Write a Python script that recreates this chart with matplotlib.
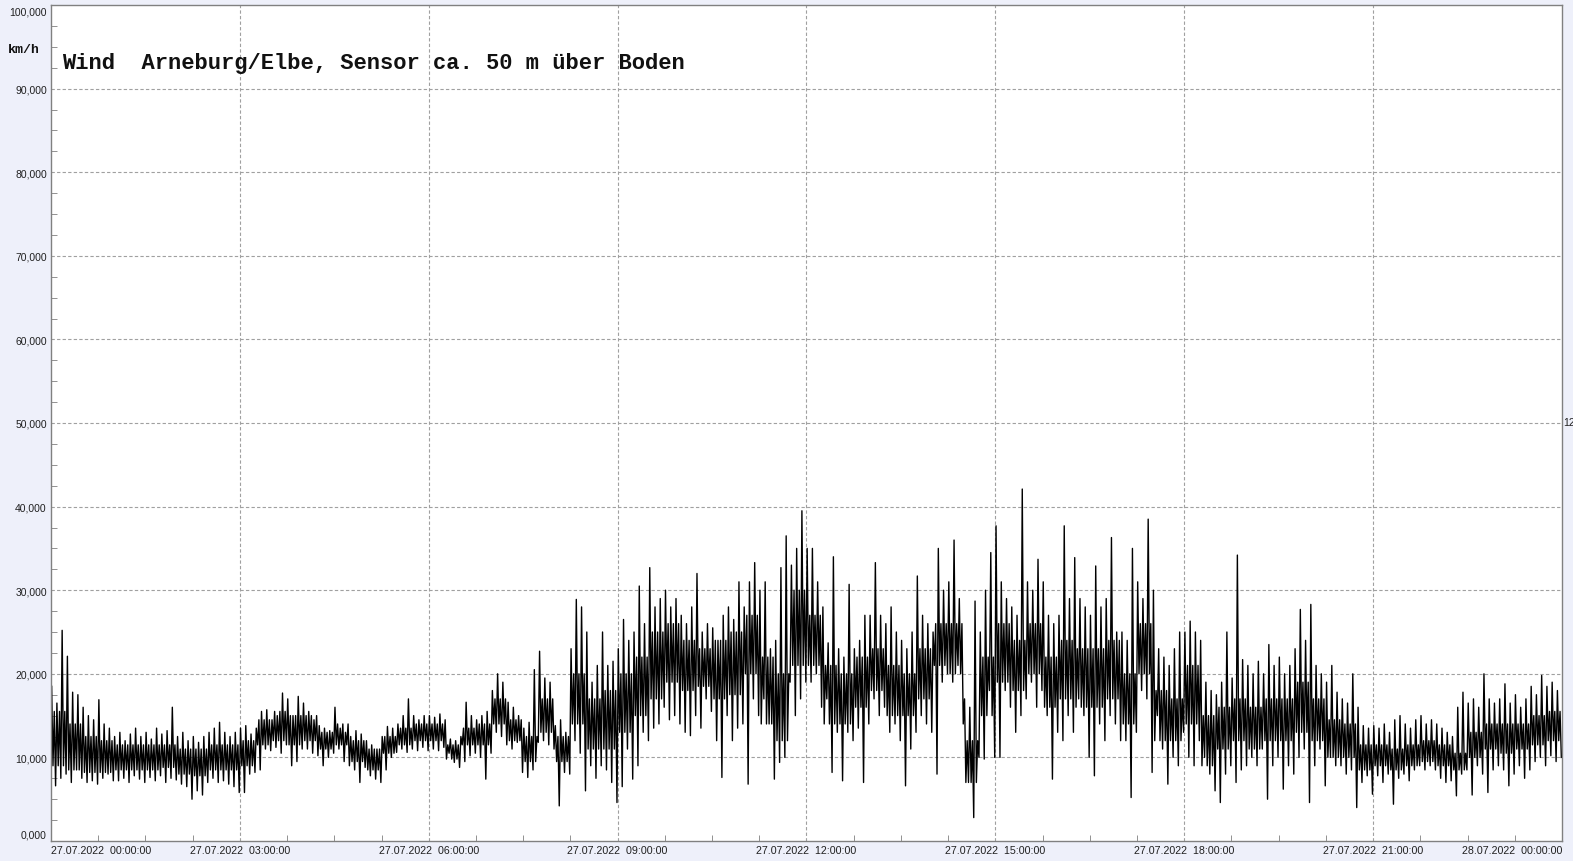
import matplotlib
matplotlib.use("Agg")
import matplotlib.pyplot as plt
from matplotlib.ticker import MultipleLocator, FixedLocator
from matplotlib.transforms import ScaledTranslation
import numpy as np

# ---- data: 5-minute extremes (upper / lower) of wind speed in km/h, one row per hour ----
hi_h = [
    [18.5, 16.5, 25.2, 22.1, 17.8, 17.5, 16.0, 15.0, 14.5, 16.9, 14.0, 13.5],
    [12.5, 13.0, 12.0, 12.8, 13.5, 12.5, 13.0, 12.2, 13.5, 12.8, 13.2, 16.0],
    [12.5, 13.0, 12.0, 12.5, 11.8, 12.5, 13.0, 13.5, 14.2, 13.0, 12.5, 13.0],
    [13.5, 13.8, 12.8, 13.5, 15.5, 15.7, 14.5, 15.0, 17.7, 17.0, 15.0, 17.3],
    [16.5, 15.5, 14.5, 13.8, 13.5, 13.2, 16.0, 13.5, 13.0, 12.5, 13.2, 12.8],
    [12.0, 11.5, 11.0, 12.5, 13.7, 13.5, 14.0, 15.0, 17.0, 15.0, 14.5, 15.0],
    [15.0, 14.8, 15.2, 14.5, 12.2, 12.0, 12.5, 16.6, 15.0, 14.5, 15.0, 15.5],
    [18.0, 20.0, 19.0, 16.6, 16.0, 15.0, 13.5, 14.2, 20.5, 22.7, 19.5, 19.0],
    [13.8, 14.5, 13.0, 23.0, 28.9, 28.0, 25.0, 19.0, 21.0, 25.0, 21.0, 21.5],
    [23.0, 26.5, 24.0, 25.0, 30.5, 26.0, 32.7, 28.0, 29.0, 30.0, 28.0, 29.0],
    [27.0, 26.0, 28.0, 32.0, 25.0, 26.0, 25.5, 24.0, 27.0, 28.0, 26.5, 31.0],
    [28.0, 31.0, 33.3, 30.0, 31.0, 23.0, 24.0, 32.7, 36.5, 33.0, 35.0, 39.5],
    [35.0, 35.0, 31.0, 28.0, 23.7, 34.0, 23.0, 22.0, 30.7, 23.0, 24.0, 27.0],
    [27.0, 33.3, 27.0, 26.0, 28.0, 25.0, 24.0, 23.0, 25.0, 31.7, 27.0, 26.0],
    [25.0, 35.0, 30.0, 31.0, 36.0, 29.0, 17.0, 16.0, 28.7, 25.0, 30.0, 34.5],
    [37.7, 31.0, 29.0, 28.0, 27.0, 42.1, 31.0, 30.0, 33.7, 31.0, 27.0, 26.0],
    [27.0, 37.7, 29.0, 33.9, 29.0, 28.0, 27.0, 32.9, 28.0, 29.0, 36.3, 25.0],
    [25.0, 24.0, 35.0, 31.0, 29.0, 38.5, 30.0, 23.0, 22.0, 21.0, 23.0, 25.0],
    [25.0, 26.3, 25.0, 24.0, 19.0, 18.0, 17.5, 19.0, 25.0, 19.5, 34.2, 21.7],
    [21.0, 20.0, 21.5, 20.0, 23.5, 21.0, 22.0, 20.0, 21.0, 23.0, 27.7, 24.0],
    [28.3, 21.0, 20.0, 19.0, 21.0, 17.8, 17.0, 16.5, 20.0, 16.0, 13.8, 13.5],
    [13.8, 13.5, 14.0, 13.0, 14.5, 15.0, 14.0, 13.5, 14.5, 15.0, 14.0, 14.5],
    [14.0, 13.5, 13.0, 12.5, 16.0, 17.8, 16.5, 17.0, 16.0, 20.0, 17.0, 16.5],
    [17.0, 18.8, 16.5, 17.5, 16.0, 17.0, 18.5, 17.5, 19.8, 18.5, 19.0, 18.0],
]
lo_h = [
    [6.6, 7.5, 8.0, 7.0, 8.5, 7.5, 7.0, 7.2, 6.8, 7.5, 8.0, 7.2],
    [7.2, 7.5, 7.0, 7.8, 7.4, 7.0, 7.6, 7.2, 7.8, 7.0, 7.5, 7.3],
    [6.8, 6.5, 5.0, 6.0, 5.5, 7.0, 7.5, 7.0, 7.2, 6.8, 6.5, 5.8],
    [5.8, 8.0, 8.2, 8.5, 11.0, 10.8, 11.2, 10.5, 11.5, 9.0, 9.5, 11.0],
    [11.0, 10.5, 10.2, 9.0, 10.0, 10.5, 11.0, 9.5, 9.0, 8.5, 7.0, 8.8],
    [7.8, 7.4, 7.0, 8.5, 10.0, 10.6, 11.0, 10.6, 11.0, 10.8, 11.2, 10.8],
    [11.0, 10.8, 11.2, 10.5, 9.4, 8.8, 9.5, 10.2, 10.5, 10.0, 7.4, 10.5],
    [13.0, 12.5, 11.5, 11.0, 11.8, 8.2, 7.6, 8.5, 11.8, 12.0, 11.5, 11.0],
    [4.2, 8.2, 8.0, 12.0, 10.5, 6.0, 9.0, 7.5, 9.0, 8.5, 7.0, 4.6],
    [6.5, 11.0, 7.4, 9.0, 13.0, 12.0, 13.5, 14.0, 16.0, 14.5, 15.0, 14.0],
    [13.0, 12.6, 15.0, 13.5, 17.0, 15.5, 12.0, 7.6, 15.0, 12.0, 13.5, 14.0],
    [6.8, 17.0, 15.0, 17.0, 14.0, 7.4, 9.4, 10.0, 19.0, 15.0, 17.0, 19.0],
    [19.0, 20.0, 16.0, 17.0, 8.2, 13.0, 7.2, 13.0, 12.0, 13.5, 7.0, 14.0],
    [17.0, 15.0, 16.0, 13.0, 14.0, 12.0, 6.6, 11.0, 13.0, 15.0, 14.0, 13.0],
    [8.0, 19.0, 20.0, 19.0, 21.0, 14.0, 7.0, 2.8, 10.0, 9.8, 18.0, 10.0],
    [10.0, 18.0, 16.0, 13.0, 15.0, 17.0, 19.0, 16.0, 18.0, 15.0, 7.4, 13.0],
    [12.0, 15.0, 13.0, 17.0, 15.0, 10.0, 7.8, 14.0, 12.0, 15.0, 14.0, 12.0],
    [12.0, 5.2, 13.0, 18.0, 17.0, 8.2, 15.0, 11.0, 6.8, 10.0, 9.0, 13.0],
    [10.0, 9.0, 12.0, 10.0, 8.0, 6.0, 4.6, 8.0, 9.0, 7.0, 8.5, 9.0],
    [10.0, 9.0, 11.0, 5.0, 9.0, 10.0, 6.2, 9.0, 8.0, 10.0, 11.0, 4.6],
    [9.0, 11.0, 6.6, 10.0, 9.0, 9.0, 8.0, 8.5, 4.0, 7.0, 7.8, 5.6],
    [7.8, 7.0, 8.0, 4.4, 7.5, 8.0, 7.2, 8.5, 9.0, 8.5, 9.0, 8.5],
    [7.5, 7.0, 7.2, 5.4, 8.0, 8.5, 5.5, 9.0, 8.0, 5.8, 8.5, 9.0],
    [8.5, 6.6, 8.0, 9.0, 7.5, 8.5, 9.5, 10.0, 9.0, 10.2, 9.5, 10.0],
]
# ---- data: 15-minute dense core band (upper / lower) in km/h, one row per hour ----
core_hi_h = [
    [15.5, 14.0, 12.5, 12.0], [11.5, 11.5, 11.5, 11.5], [11.0, 11.0, 11.5, 11.5],
    [12.0, 14.5, 15.5, 15.0], [15.0, 13.0, 14.0, 12.0], [11.0, 12.5, 13.5, 14.0],
    [14.0, 11.5, 13.5, 14.0], [17.0, 14.5, 12.5, 17.0], [12.5, 20.0, 17.0, 18.0],
    [20.0, 22.0, 25.0, 26.0], [24.0, 23.0, 24.0, 25.0], [27.0, 22.0, 20.0, 30.0],
    [27.0, 21.0, 20.0, 22.0], [23.0, 21.0, 20.0, 23.0], [26.0, 26.0, 12.0, 22.0],
    [26.0, 24.0, 26.0, 22.0], [24.0, 23.0, 23.0, 24.0], [20.0, 26.0, 18.0, 17.0],
    [21.0, 15.0, 16.0, 17.0], [16.0, 17.0, 17.0, 19.0], [17.0, 14.5, 14.0, 11.5],
    [11.5, 11.0, 11.5, 12.0], [11.5, 10.5, 13.0, 14.0], [14.0, 14.0, 15.0, 15.5],
]
core_lo_h = [
    [9.0, 8.5, 8.2, 8.2], [8.5, 8.5, 8.5, 8.8], [8.0, 7.8, 8.5, 8.5],
    [9.0, 11.5, 12.0, 11.5], [12.0, 11.0, 11.5, 9.5], [8.5, 10.5, 11.5, 12.0],
    [12.0, 9.8, 11.5, 11.5], [14.0, 12.0, 9.5, 13.0], [9.5, 14.0, 11.0, 11.0],
    [13.0, 15.0, 17.0, 19.0], [18.0, 18.5, 17.0, 17.5], [20.0, 14.0, 12.0, 21.0],
    [21.0, 14.0, 14.0, 16.0], [18.0, 15.0, 15.0, 17.0], [21.0, 20.0, 7.0, 15.0],
    [19.0, 18.0, 20.0, 16.0], [17.0, 16.0, 16.0, 17.0], [14.0, 20.0, 12.0, 12.0],
    [14.0, 9.0, 11.0, 12.0], [11.0, 12.0, 12.0, 13.0], [12.0, 10.0, 10.0, 8.5],
    [9.0, 8.5, 9.0, 9.5], [9.0, 8.5, 10.0, 11.0], [10.5, 11.0, 11.5, 12.0],
]
x_tick_hours = [0, 3, 6, 9, 12, 15, 18, 21, 24]
x_tick_labels = ["27.07.2022  00:00:00", "27.07.2022  03:00:00", "27.07.2022  06:00:00",
                 "27.07.2022  09:00:00", "27.07.2022  12:00:00", "27.07.2022  15:00:00",
                 "27.07.2022  18:00:00", "27.07.2022  21:00:00", "28.07.2022  00:00:00"]
y_ticks = [0, 10, 20, 30, 40, 50, 60, 70, 80, 90, 100]
title = "Wind  Arneburg/Elbe, Sensor ca. 50 m über Boden"
unit = "km/h"

# ---- sequence: in each 5-min bin -> extreme high, core low, core high, extreme low ----
hi = np.array(hi_h).ravel()
lo = np.array(lo_h).ravel()
chi = np.repeat(np.array(core_hi_h).ravel(), 3)
clo = np.repeat(np.array(core_lo_h).ravel(), 3)
n = hi.size
bin_h = 5.0 / 60.0
start = np.arange(n) * bin_h
t = np.column_stack([start + f * bin_h for f in (0.125, 0.375, 0.625, 0.875)]).ravel()
v = np.column_stack([hi, clo, chi, lo]).ravel()

W, H = 1573, 862
fig = plt.figure(figsize=(W / 100, H / 100), dpi=100, facecolor="#eef0fa")
ax = fig.add_axes([51 / W, 1 - 842 / H, (1562 - 51) / W, (842 - 6) / H])
ax.set_facecolor("white")

ax.plot(t, v, color="black", lw=1.0)

ax.set_xlim(0, 24)
ax.set_ylim(0, 100)

grid_kw = dict(color="#a0a0a0", lw=0.8, ls=(0, (3, 2)))
for yv in y_ticks[1:-1]:
    ax.axhline(yv, **grid_kw, zorder=0)
for xv in x_tick_hours[1:-1]:
    ax.axvline(xv, **grid_kw, zorder=0)

for s in ax.spines.values():
    s.set_color("#808080")
    s.set_linewidth(1.0)

ax.yaxis.set_major_locator(FixedLocator(y_ticks))
ax.yaxis.set_minor_locator(MultipleLocator(2.5))
ax.set_yticklabels([f"{y:.3f}".replace(".", ",") for y in y_ticks])
ax.xaxis.set_major_locator(FixedLocator(x_tick_hours))
ax.xaxis.set_minor_locator(MultipleLocator(0.75))
ax.set_xticklabels(x_tick_labels)

ax.tick_params(axis="y", which="both", direction="in", color="#808080", labelsize=7.5,
               labelcolor="#202020", pad=3)
ax.tick_params(axis="y", which="major", length=0)
ax.tick_params(axis="y", which="minor", length=4)
ax.tick_params(axis="x", which="both", direction="in", color="#808080", labelsize=7.7,
               labelcolor="#202020", pad=3)
ax.tick_params(axis="x", which="major", length=0)
ax.tick_params(axis="x", which="minor", length=4)

yl = ax.get_yticklabels()
for lab in yl:
    lab.set_fontfamily(["Liberation Sans", "DejaVu Sans"])
yl[0].set_transform(yl[0].get_transform() + ScaledTranslation(0, 7 / 100, fig.dpi_scale_trans))
yl[-1].set_transform(yl[-1].get_transform() + ScaledTranslation(0, -6 / 100, fig.dpi_scale_trans))
xl = ax.get_xticklabels()
for lab in xl:
    lab.set_fontfamily(["Liberation Sans", "DejaVu Sans"])
xl[0].set_horizontalalignment("left")
xl[-1].set_horizontalalignment("right")

fig.text(62 / W, 1 - 64 / H, title, fontsize=15.9, fontweight="bold",
         family=["Liberation Mono", "DejaVu Sans Mono"], va="center", ha="left", color="#111111")
fig.text(8 / W, 1 - 50 / H, unit, fontsize=9.5, fontweight="bold",
         family=["Liberation Mono", "DejaVu Sans Mono"], va="center", ha="left", color="#111111")
fig.text(1563 / W, 1 - 423 / H, "12", fontsize=7.5, family=["Liberation Sans", "DejaVu Sans"],
         va="center", ha="left", color="#202020")

fig.savefig("out.png", dpi=100, facecolor=fig.get_facecolor())
